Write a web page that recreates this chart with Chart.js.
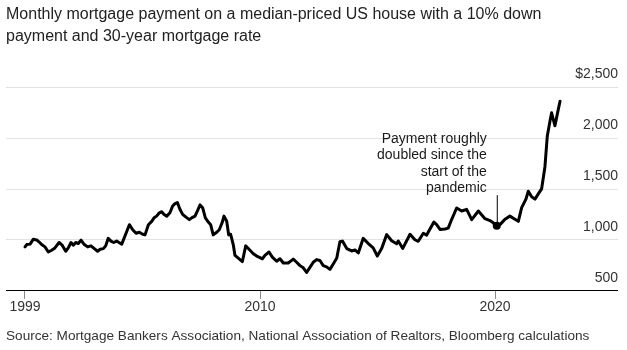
<!DOCTYPE html>
<html>
<head>
<meta charset="utf-8">
<script src="https://cdn.jsdelivr.net/npm/chart.js@4.4.0/dist/chart.umd.min.js"></script>
<style>
  html, body { margin: 0; padding: 0; background: #fff; }
  #wrap { width: 627px; height: 350px; position: relative; }
</style>
</head>
<body>
<div id="wrap"><canvas id="chart"></canvas></div>
<script>
// Months counted from the first point of the series (first tick, labelled 1999)
const months = [
  0, 0.9, 2.6, 4.2, 6.0, 7.1, 8.5, 10.2, 11.9, 13.6, 15.3, 17.4, 19.0, 20.8, 22.1, 23.5,
  24.7, 25.9, 27.2, 28.6, 30.3, 32.0, 33.7, 35.4, 37.1, 38.4, 40.0, 41.2, 42.5, 43.9,
  45.3, 46.8, 48.0, 49.4, 51.6, 53.3, 55.0, 56.7, 58.4, 60.1, 61.3, 63.0, 64.7, 65.9,
  67.2, 68.6, 69.8, 71.0, 72.4, 74.0, 75.4, 76.6, 77.8, 79.1, 80.5, 82.2, 83.9, 85.1,
  86.8, 88.0, 89.4, 90.7, 92.1, 93.6, 94.8, 96.1, 97.9, 99.2, 100.6, 101.6, 103.0,
  104.0, 105.0, 106.4, 107.2, 108.9, 111.0, 112.7, 114.4, 116.6, 118.3, 120.0, 121.2,
  122.5, 124.6, 126.3, 128.5, 130.2, 131.9, 134.4, 137.0, 138.7, 140.4, 142.1, 143.8,
  145.5, 147.2, 148.9, 150.6, 152.3, 154.0, 155.7, 157.4, 159.2, 160.8, 162.1, 164.3,
  166.8, 168.5, 170.2, 172.7, 175.3, 177.8, 179.9, 182.1, 184.7, 187.2, 189.8, 190.6,
  192.9, 196.6, 199.1, 200.8, 203.4, 205.1, 206.8, 208.8, 210.2, 211.9, 214.5, 216.1,
  217.9, 220.4, 223.0, 225.5, 228.1, 231.5, 234.9, 237.4, 239.1, 240.9, 242.9, 245.1,
  247.6, 250.2, 251.9, 253.6, 255.8, 257.0, 258.7, 260.4, 262.1, 263.8, 265.5, 266.7,
  268.1, 268.9, 270.6, 272.2, 273.2
];

// Monthly payment, dollars
const payments = [
  932, 955, 959, 1006, 1000, 982, 955, 932, 882, 899, 922, 975, 949, 889, 922, 975,
  949, 975, 965, 999, 955, 932, 942, 915, 889, 909, 915, 942, 1016, 989,
  975, 989, 975, 959, 1066, 1150, 1100, 1066, 1076, 1056, 1050, 1150, 1183, 1217,
  1234, 1267, 1277, 1251, 1234, 1267, 1334, 1357, 1367, 1301, 1251, 1224, 1200, 1217,
  1234, 1284, 1344, 1317, 1217, 1176, 1150, 1050, 1076, 1100, 1166, 1234, 1183,
  1050, 1056, 949, 849, 822, 788, 942, 909, 865, 842, 827, 815,
  849, 882, 832, 791, 815, 774, 774, 812, 781, 748, 726, 681,
  731, 781, 807, 798, 748, 736, 711, 764, 822, 982, 989, 915,
  892, 902, 872, 1016, 965, 922, 842, 915, 1053, 992, 962, 989,
  917, 1056, 1002, 987, 1066, 1048, 1108, 1176, 1150, 1103, 1108, 1116,
  1203, 1314, 1284, 1301, 1200, 1284, 1209, 1190, 1168, 1133, 1158, 1204,
  1234, 1204, 1183, 1317, 1401, 1478, 1425, 1401, 1452, 1502, 1719, 2021,
  2171, 2249, 2121, 2272, 2362
];

const tickMonths = [0, 120, 240];
const tickLabels = ['1999', '2010', '2020'];
const yTicks = [500, 1000, 1500, 2000, 2500];

const titleLines = [
  'Monthly mortgage payment on a median-priced US house with a 10% down',
  'payment and 30-year mortgage rate'
];
const sourceText = 'Source: Mortgage Bankers Association, National Association of Realtors, Bloomberg calculations';

// Pandemic callout
const noteLines = ['Payment roughly', 'doubled since the', 'start of the', 'pandemic'];
const noteMonth = 240.9;
const noteValue = 1140;
const noteTopValue = 1440;

const FONT = '"Liberation Sans", Arial, Helvetica, sans-serif';

// Draws the marker, leader line and text of the callout
const notePlugin = {
  id: 'note',
  afterDatasetsDraw(chart) {
    const { ctx, scales } = chart;
    const px = scales.x.getPixelForValue(noteMonth);
    const py = scales.y.getPixelForValue(noteValue);
    const topY = scales.y.getPixelForValue(noteTopValue);
    ctx.save();
    ctx.strokeStyle = '#000';
    ctx.lineWidth = 1;
    ctx.beginPath();
    ctx.moveTo(px + 0.5, py);
    ctx.lineTo(px + 0.5, topY);
    ctx.stroke();
    ctx.fillStyle = '#000';
    ctx.beginPath();
    ctx.arc(px, py, 4, 0, Math.PI * 2);
    ctx.fill();
    ctx.font = '14px ' + FONT;
    ctx.fillStyle = '#1a1a1a';
    ctx.textAlign = 'right';
    ctx.textBaseline = 'middle';
    const lineH = 16.5;
    noteLines.forEach((line, i) => {
      const y = topY - 7 - (noteLines.length - 1 - i) * lineH;
      ctx.fillText(line, px - 10, y);
    });
    ctx.restore();
  }
};

new Chart(document.getElementById('chart'), {
  type: 'line',
  data: {
    datasets: [{
      data: months.map((m, i) => ({ x: m, y: payments[i] })),
      borderColor: '#000',
      borderWidth: 3,
      borderJoinStyle: 'round',
      borderCapStyle: 'round',
      pointRadius: 0,
      tension: 0,
      fill: false
    }]
  },
  options: {
    responsive: true,
    maintainAspectRatio: false,
    animation: false,
    layout: { padding: { left: 6, right: 9, top: 4, bottom: 6 } },
    plugins: {
      legend: { display: false },
      tooltip: { enabled: false },
      title: {
        display: true,
        text: titleLines,
        align: 'start',
        color: '#222',
        font: { family: FONT, size: 16, weight: 'normal', lineHeight: 1.35 },
        padding: { top: 0, bottom: 40 }
      },
      subtitle: {
        display: true,
        position: 'bottom',
        text: sourceText,
        align: 'start',
        color: '#333',
        font: { family: FONT, size: 13.6, weight: 'normal' },
        padding: { top: 12, bottom: 0 }
      }
    },
    scales: {
      x: {
        type: 'linear',
        min: -9.7,
        max: 302.8,
        afterBuildTicks: (axis) => { axis.ticks = tickMonths.map(v => ({ value: v })); },
        ticks: {
          autoSkip: false,
          maxRotation: 0,
          padding: 0,
          color: '#333',
          font: { family: FONT, size: 14 },
          callback: (v) => tickLabels[tickMonths.indexOf(v)]
        },
        grid: { drawOnChartArea: false, drawTicks: true, tickLength: 8, color: '#888' },
        border: { display: false }
      },
      y: {
        position: 'right',
        min: 500,
        max: 2500,
        afterBuildTicks: (axis) => { axis.ticks = yTicks.map(v => ({ value: v })); },
        ticks: {
          mirror: true,
          padding: 0,
          labelOffset: -13,
          color: '#333',
          font: { family: FONT, size: 14 },
          callback: (v) => v === 2500 ? '$2,500' : v.toLocaleString('en-US')
        },
        grid: {
          drawTicks: false,
          color: (c) => (c.tick && c.tick.value === 500) ? '#000' : '#e3e3e3'
        },
        border: { display: false }
      }
    }
  },
  plugins: [notePlugin]
});
</script>
</body>
</html>
